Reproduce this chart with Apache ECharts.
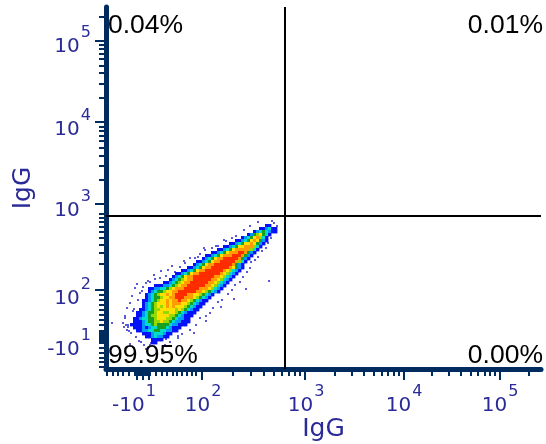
<!DOCTYPE html>
<html><head><meta charset="utf-8">
<style>html,body{margin:0;padding:0;background:#fff}#c{width:546px;height:444px}</style>
<script src="https://cdn.jsdelivr.net/npm/echarts@6/dist/echarts.min.js"></script>
</head><body><div id="c"></div>
<script>
// All values are in scale channels along each biexponential axis.
const axisTitle = "IgG";
const quadrantLabels = ["0.04%", "0.01%", "99.95%", "0.00%"];
const quadrantGateX = [179];
const quadrantGateY = [153];

const xMajorTicks = [95.7, 199, 297.3, 393.3];
const xMinorTicks = [1,7,12,17,23, 29,30.5,32,33.5,35,36.5,38,39.5,41,42.5,44, 50,55.6,60.6,66.3,70.6,75.6,80.6,85.6,90,
  126.8,145,157.9,167.9,176,183,189,194, 228.6,245.9,258.2,267.7,275.5,282,287.8,292.8,
  326.2,343.1,355.1,364.4,372,378.4,384,388.9, 423];
const xLongClusterTicks = [31,37,43];
const xTickLabels = [
  {channel: 28, text: "-10", power: "1"},
  {channel: 97, text: "10", power: "2"},
  {channel: 200, text: "10", power: "3"},
  {channel: 298, text: "10", power: "4"},
  {channel: 394, text: "10", power: "5"}
];

const yMajorTicks = [79, 165, 247, 328];
const yMinorTicks = [2,7,11,16,21, 26.5,28,29.5,31,32.5,34,35.5,37,38.5, 44,49,54,59,64,69,74,
  105,116,124,131,137,142,147,151,155.6,
  189.1,203.4,213.6,221.5,228,233.5,238.3,242.5,
  271.4,285.7,295.8,303.6,310,315.4,320.1,324.3, 352.4];
const yTickLabels = [
  {channel: 26, text: "-10", power: "1"},
  {channel: 77, text: "10", power: "2"},
  {channel: 165, text: "10", power: "3"},
  {channel: 246, text: "10", power: "4"},
  {channel: 329, text: "10", power: "5"}
];

// Density map, one string per 3-channel row from the top down.
// 1 blue, 2 azure, 3 aqua, 4 green, 5 lime, 6 yellow, 7 orange, 8 red.
const densityStartBin = [47,45,43,41,39,37,35,33,31,29,27,26,24,23,21,19,17,16,15,13,10,8,8,7,7,6,6,6,5,4,4,3,3,2,3,4,6,7,9,9];
const densityRows = [
  "11",
  "112311",
  "12343211",
  "12456431",
  "123467531",
  "11234676421",
  "112346676421",
  "1123466777531",
  "11234677777531",
  "112346777887421",
  "1123467778887421",
  "1234677888887421",
  "11234677888887531",
  "12346778888887421",
  "1123467788888876421",
  "11234677888888765321",
  "112346778888888765321",
  "123467788888887765321",
  "123456778888887765321",
  "1123456778888887765321",
  "111223456778888887765321",
  "1122334567778888877765321",
  "123445667788888877654321",
  "12345667678888776654321",
  "1234456677888777654321",
  "1123456676778776543211",
  "123456667677766543211",
  "12345656767666543211",
  "11234556666656543211",
  "11234456655665432111",
  "1123455666655432111",
  "1123344566655432211",
  "1112344556554322111",
  "1111233454444322111",
  "1112123344432111",
  "11223344332211",
  "1112333211",
  "11232211",
  "1111",
  "11"
];
const densityColors = ["#ffffff","#0410f8","#0098ff","#00dcc8","#18a020","#96d800","#ffe000","#ff9c00","#ff2c00"];

const sparseEventsX = [168,171,166,170,165,162,160,156,152,149,145,144,141,137,134,129,126,122,116,112,107,104,100,94,90,84,76,72,64,59,
  152,144,138,130,126,118,112,106,99,94,89,84,79,74,69,62,60,54,49,44,40,37,34,29,26,32,24,21,28,19,22,17,18,6,20,19,22,21,25,30,35,40,44,
  60,72,88,100,115,128,140,
  163,158,154,147,139,132,124,118,109,101,96,88,80,68,56,50,45,38,33,28,24,23,27,36,31,42,48,55,66,78,92,98,110,120];
const sparseEventsY = [146,143,148,137,131,126,121,118,112,109,107,101,97,92,87,84,79,75,69,67,61,56,53,51,44,39,35,31,27,24,
  147,143,139,133,131,129,123,121,119,115,111,111,106,102,97,99,93,91,90,87,86,82,76,81,73,69,66,61,60,51,44,46,42,46,44,53,42,39,36,32,27,20,
  24,30,33,36,48,62,70,80,88,
  130,125,120,113,104,99,90,83,76,65,63,50,42,34,30,26,24,28,21,25,38,58,78,85,88,94,98,103,108,112,121,123,128,133];

const densityCells = [];
densityRows.forEach((row, r) => {
  [...row].forEach((ch, i) => densityCells.push([18 + 3 * (densityStartBin[r] + i), 142 - 3 * r, +ch]));
});
const events = sparseEventsX.map((x, i) => [x, sparseEventsY[i]]);

const NAVY = "#002b5f", INK = "#2a2a98";
const labelLookup = list => v => {
  const t = list.find(d => d.channel === v);
  return t ? "{b|" + t.text + "}{s|" + t.power + "}" : "";
};
const rich = {
  b: {fontFamily: "DejaVu Sans", fontSize: 20, color: INK, padding: [14, 0, 0, 0]},
  s: {fontFamily: "DejaVu Sans", fontSize: 16, color: INK, padding: [0, 0, 15, 1]}
};
const off = {show: false};
const base = {type: "value", splitLine: off, axisLine: off, axisLabel: off, axisTick: off};

const chart = echarts.init(document.getElementById("c"), null, {renderer: "canvas"});
chart.setOption({
  animation: false,
  grid: {left: 106, top: 7, width: 435, height: 362, outerBoundsMode: "none", containLabel: false},
  xAxis: [
    {...base, min: 0, max: 435, position: "bottom",
     axisLine: {show: true, onZero: false, lineStyle: {color: NAVY, width: 5, cap: "round"}},
     axisTick: {show: true, length: 7, customValues: xMinorTicks, lineStyle: {color: NAVY, width: 2}},
     name: axisTitle, nameLocation: "middle", nameGap: 48,
     nameTextStyle: {fontFamily: "DejaVu Sans", fontSize: 25, color: INK}},
    {...base, min: 0, max: 435, position: "bottom",
     axisTick: {show: true, length: 11, customValues: xMajorTicks.concat(xLongClusterTicks), lineStyle: {color: NAVY, width: 2}},
     axisLabel: {show: true, margin: 13, customValues: xTickLabels.map(d => d.channel),
       formatter: labelLookup(xTickLabels), rich}}
  ],
  yAxis: [
    {...base, min: 0, max: 362, position: "left",
     axisLine: {show: true, onZero: false, lineStyle: {color: NAVY, width: 5, cap: "round"}},
     axisTick: {show: true, length: 7, customValues: yMinorTicks, lineStyle: {color: NAVY, width: 2}},
     name: axisTitle, nameLocation: "middle", nameGap: 70, nameRotate: 90,
     nameTextStyle: {fontFamily: "DejaVu Sans", fontSize: 25, color: INK}},
    {...base, min: 0, max: 362, position: "left",
     axisTick: {show: true, length: 11, customValues: yMajorTicks, lineStyle: {color: NAVY, width: 2}},
     axisLabel: {show: true, margin: 15, customValues: yTickLabels.map(d => d.channel),
       formatter: labelLookup(yTickLabels), rich}}
  ],
  series: [
    {type: "scatter", data: events, symbol: "rect", symbolSize: 2, silent: true,
     itemStyle: {color: "#3030d0", opacity: 0.8}, z: 2},
    {type: "custom", data: densityCells, silent: true, z: 3, clip: true,
     renderItem(params, api) {
       const p = api.coord([api.value(0), api.value(1)]);
       const s = api.size([3, 3]);
       return {type: "rect", shape: {x: p[0], y: p[1] - s[1], width: s[0] + .4, height: s[1] + .4},
               style: {fill: densityColors[api.value(2)]}};
     }},
    {type: "line", data: [], z: 4, silent: true,
     markLine: {silent: true, symbol: "none", animation: false, label: off,
       lineStyle: {color: "#000", width: 2, type: "solid"},
       data: [{xAxis: quadrantGateX[0]}, {yAxis: quadrantGateY[0]}]}}
  ],
  graphic: [
    [quadrantLabels[0], 108, 39, "left"], [quadrantLabels[1], 543, 39, "right"],
    [quadrantLabels[2], 108, 369, "left"], [quadrantLabels[3], 543, 369, "right"]
  ].map(([text, x, y, align]) => ({type: "text", x, y, z: 10, silent: true,
    style: {text, fontFamily: "Liberation Sans", fontSize: 26.5, fill: "#000", align, verticalAlign: "bottom"}}))
});
</script></body></html>
